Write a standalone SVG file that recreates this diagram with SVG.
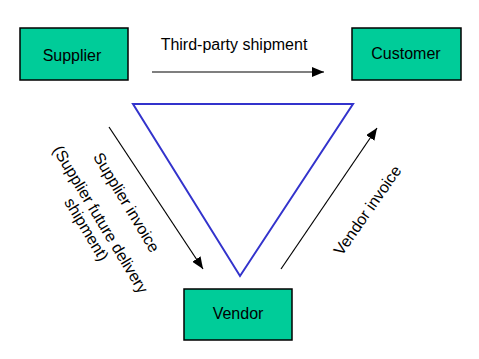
<svg xmlns="http://www.w3.org/2000/svg" width="479" height="359" viewBox="0 0 479 359">
<defs>
<marker id="ah" viewBox="0 0 12 10" refX="12" refY="5" markerWidth="12" markerHeight="10" markerUnits="userSpaceOnUse" orient="auto">
<path d="M0,0 L12,5 L0,10 Z" fill="#000"/>
</marker>
</defs>
<style>
.box{fill:#00cc99;stroke:#000;stroke-width:1.5}
.t{font-family:"Liberation Sans",Arial,sans-serif;font-size:16px;fill:#000}
.c{stroke:#000;stroke-width:1.2;fill:none;marker-end:url(#ah)}
</style>
<rect width="479" height="359" fill="#fff"/>
<g id="triangle">
<polygon points="133,104 353,104 240,276" fill="none" stroke="#3333cc" stroke-width="2"/>
</g>
<g id="supplier">
<rect class="box" x="20" y="28" width="108" height="52"/>
<text class="t" x="72" y="61" text-anchor="middle">Supplier</text>
</g>
<g id="customer">
<rect class="box" x="352" y="28" width="109" height="52"/>
<text class="t" x="406" y="59" text-anchor="middle">Customer</text>
</g>
<g id="vendor">
<rect class="box" x="184" y="289" width="108" height="51"/>
<text class="t" x="238" y="319" text-anchor="middle">Vendor</text>
</g>
<g id="connectors">
<line class="c" x1="152" y1="72" x2="324" y2="72"/>
<line class="c" x1="109" y1="127" x2="203" y2="269"/>
<line class="c" x1="281" y1="269" x2="377" y2="128"/>
</g>
<g id="labels">
<text class="t" x="234" y="50" text-anchor="middle">Third-party shipment</text>
<text class="t" text-anchor="middle" transform="translate(127,202) rotate(59)" y="6">Supplier invoice</text>
<text class="t" text-anchor="middle" transform="translate(101,219) rotate(59)" y="6">(Supplier future delivery</text>
<text class="t" text-anchor="middle" transform="translate(87,229) rotate(59)" y="6">shipment)</text>
<text class="t" text-anchor="middle" transform="translate(367,210) rotate(-55)" y="6">Vendor invoice</text>
</g>
</svg>
